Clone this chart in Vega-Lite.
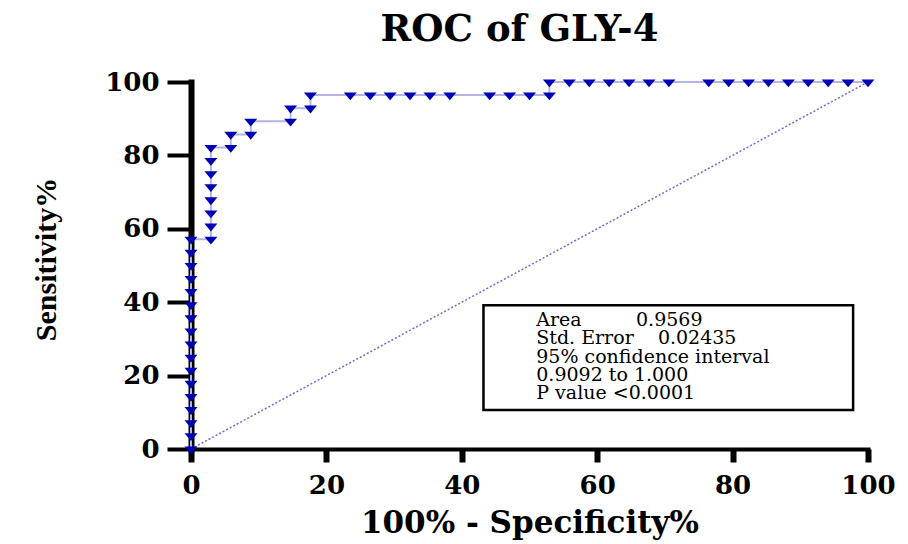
{
  "$schema": "https://vega.github.io/schema/vega-lite/v6.json",
  "width": 677,
  "height": 367,
  "autosize": {"type": "none"},
  "padding": {"left": 191, "top": 82, "right": 40, "bottom": 95},
  "background": "white",
  "title": {
    "text": "ROC of GLY-4",
    "font": "DejaVu Serif",
    "fontSize": 37,
    "fontWeight": "bold",
    "color": "black",
    "anchor": "middle",
    "frame": "group",
    "offset": 20,
    "dx": -10
  },
  "datasets": {
    "roc": [
      {"i": 1, "fpr": 0, "sens": 0},
      {"i": 2, "fpr": 0, "sens": 3.571},
      {"i": 3, "fpr": 0, "sens": 7.143},
      {"i": 4, "fpr": 0, "sens": 10.714},
      {"i": 5, "fpr": 0, "sens": 14.286},
      {"i": 6, "fpr": 0, "sens": 17.857},
      {"i": 7, "fpr": 0, "sens": 21.429},
      {"i": 8, "fpr": 0, "sens": 25.0},
      {"i": 9, "fpr": 0, "sens": 28.571},
      {"i": 10, "fpr": 0, "sens": 32.143},
      {"i": 11, "fpr": 0, "sens": 35.714},
      {"i": 12, "fpr": 0, "sens": 39.286},
      {"i": 13, "fpr": 0, "sens": 42.857},
      {"i": 14, "fpr": 0, "sens": 46.429},
      {"i": 15, "fpr": 0, "sens": 50.0},
      {"i": 16, "fpr": 0, "sens": 53.571},
      {"i": 17, "fpr": 0, "sens": 57.143},
      {"i": 18, "fpr": 2.941, "sens": 57.143},
      {"i": 19, "fpr": 2.941, "sens": 60.714},
      {"i": 20, "fpr": 2.941, "sens": 64.286},
      {"i": 21, "fpr": 2.941, "sens": 67.857},
      {"i": 22, "fpr": 2.941, "sens": 71.429},
      {"i": 23, "fpr": 2.941, "sens": 75.0},
      {"i": 24, "fpr": 2.941, "sens": 78.571},
      {"i": 25, "fpr": 2.941, "sens": 82.143},
      {"i": 26, "fpr": 5.882, "sens": 82.143},
      {"i": 27, "fpr": 5.882, "sens": 85.714},
      {"i": 28, "fpr": 8.824, "sens": 85.714},
      {"i": 29, "fpr": 8.824, "sens": 89.286},
      {"i": 30, "fpr": 14.706, "sens": 89.286},
      {"i": 31, "fpr": 14.706, "sens": 92.857},
      {"i": 32, "fpr": 17.647, "sens": 92.857},
      {"i": 33, "fpr": 17.647, "sens": 96.429},
      {"i": 34, "fpr": 23.529, "sens": 96.429},
      {"i": 35, "fpr": 26.471, "sens": 96.429},
      {"i": 36, "fpr": 29.412, "sens": 96.429},
      {"i": 37, "fpr": 32.353, "sens": 96.429},
      {"i": 38, "fpr": 35.294, "sens": 96.429},
      {"i": 39, "fpr": 38.235, "sens": 96.429},
      {"i": 40, "fpr": 44.118, "sens": 96.429},
      {"i": 41, "fpr": 47.059, "sens": 96.429},
      {"i": 42, "fpr": 50.0, "sens": 96.429},
      {"i": 43, "fpr": 52.941, "sens": 96.429},
      {"i": 44, "fpr": 52.941, "sens": 100},
      {"i": 45, "fpr": 55.882, "sens": 100},
      {"i": 46, "fpr": 58.824, "sens": 100},
      {"i": 47, "fpr": 61.765, "sens": 100},
      {"i": 48, "fpr": 64.706, "sens": 100},
      {"i": 49, "fpr": 67.647, "sens": 100},
      {"i": 50, "fpr": 70.588, "sens": 100},
      {"i": 51, "fpr": 76.471, "sens": 100},
      {"i": 52, "fpr": 79.412, "sens": 100},
      {"i": 53, "fpr": 82.353, "sens": 100},
      {"i": 54, "fpr": 85.294, "sens": 100},
      {"i": 55, "fpr": 88.235, "sens": 100},
      {"i": 56, "fpr": 91.176, "sens": 100},
      {"i": 57, "fpr": 94.118, "sens": 100},
      {"i": 58, "fpr": 97.059, "sens": 100},
      {"i": 59, "fpr": 100, "sens": 100}
    ],
    "ref": [
      {"fpr": 0, "sens": 0},
      {"fpr": 100, "sens": 100}
    ],
    "box": [
      {"x1": 43.2, "x2": 97.8, "y1": 39.2, "y2": 10.6, "tx": 51.0, "ty": 35.1}
    ]
  },
  "encoding": {
    "x": {"field": "fpr", "type": "quantitative", "title": "100% - Specificity%", "scale": {"domain": [0, 100], "nice": false}, "axis": {"values": [0, 20, 40, 60, 80, 100]}},
    "y": {"field": "sens", "type": "quantitative", "title": "Sensitivity%", "scale": {"domain": [0, 100], "nice": false}, "axis": {"values": [0, 20, 40, 60, 80, 100]}}
  },
  "layer": [
    {
      "data": {"name": "ref"},
      "mark": {"type": "line", "stroke": "#6b6bd6", "strokeWidth": 1.5, "strokeDash": [2, 2]}
    },
    {
      "data": {"name": "roc"},
      "mark": {"type": "line", "stroke": "#b4b4e8", "strokeWidth": 2},
      "encoding": {
        "order": {"field": "i", "type": "quantitative"}
      }
    },
    {
      "data": {"name": "roc"},
      "mark": {"type": "point", "shape": "M-1,-0.4L1,-0.4L0,0.8Z", "size": 170, "filled": true, "color": "#0000b4", "opacity": 1, "strokeWidth": 0}
    },
    {
      "data": {"name": "box"},
      "mark": {"type": "rect", "fill": "white", "stroke": "black", "strokeWidth": 2.5},
      "encoding": {
        "x": {"field": "x1", "type": "quantitative"},
        "x2": {"field": "x2"},
        "y": {"field": "y1", "type": "quantitative"},
        "y2": {"field": "y2"}
      }
    },
    {
      "data": {"name": "box"},
      "mark": {"type": "text", "align": "left", "baseline": "middle", "font": "DejaVu Serif", "fontSize": 19, "lineHeight": 18.3, "color": "black"},
      "encoding": {
        "x": {"field": "tx", "type": "quantitative"},
        "y": {"field": "ty", "type": "quantitative"},
        "text": {"value": ["Area\u00a0\u00a0\u00a0\u00a0\u00a0\u00a0\u00a0\u00a0\u00a00.9569", "Std. Error\u00a0\u00a0\u00a0\u00a00.02435", "95% confidence interval", "\u00a00.9092 to 1.000", "P value <0.0001"]}
      }
    }
  ],
  "config": {
    "view": {"stroke": null},
    "axis": {
      "grid": false,
      "domainColor": "black",
      "tickColor": "black",
      "labelColor": "black",
      "titleColor": "black",
      "labelFont": "DejaVu Serif",
      "labelFontWeight": "bold",
      "labelFontSize": 26,
      "domainCap": "square"
    },
    "axisX": {
      "domainWidth": 4,
      "tickWidth": 6,
      "tickSize": 13,
      "labelPadding": 10,
      "titleFont": "DejaVu Serif",
      "titleFontSize": 31,
      "titleFontWeight": "bold",
      "titleBaseline": "alphabetic",
      "titleY": 83,
      "labelFlush": false,
      "labelOverlap": false
    },
    "axisY": {
      "domainWidth": 6,
      "tickWidth": 4,
      "tickSize": 24,
      "labelPadding": 8,
      "titleFont": "Liberation Serif",
      "titleFontSize": 30,
      "titleFontWeight": "bold",
      "titleX": -130,
      "titleY": 177,
      "titleBaseline": "bottom",
      "labelFlush": false,
      "labelOverlap": false
    }
  }
}
